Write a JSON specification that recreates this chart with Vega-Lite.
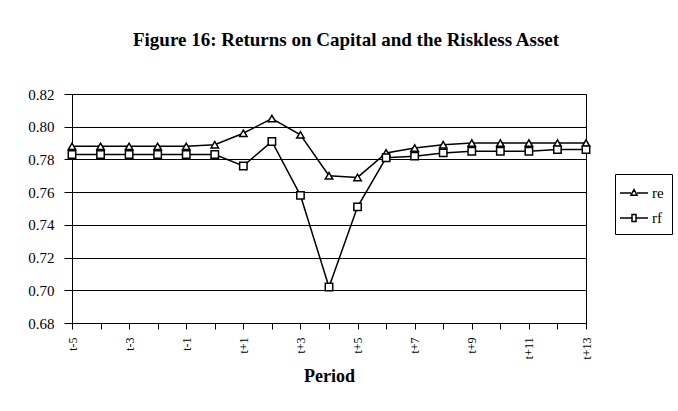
{
  "$schema": "https://vega.github.io/schema/vega-lite/v6.json",
  "autosize": "none",
  "width": 514,
  "height": 229,
  "padding": {"left": 72, "top": 94, "right": 92, "bottom": 88},
  "background": "white",
  "config": {
    "font": "Liberation Serif",
    "view": {"stroke": "black", "strokeWidth": 1},
    "axis": {"labelFont": "Liberation Serif", "titleFont": "Liberation Serif", "labelColor": "black", "titleColor": "black", "domainColor": "black", "tickColor": "black", "gridColor": "black", "gridOpacity": 1}
  },
  "title": {
    "text": "Figure 16: Returns on Capital and the Riskless Asset",
    "font": "Liberation Serif",
    "fontSize": 19,
    "fontWeight": "bold",
    "color": "black",
    "anchor": "middle",
    "offset": 37,
    "dx": 17
  },
  "data": {
    "values": [
      {"period": "t-5", "series": "re", "value": 0.788},
      {"period": "t-4", "series": "re", "value": 0.788},
      {"period": "t-3", "series": "re", "value": 0.788},
      {"period": "t-2", "series": "re", "value": 0.788},
      {"period": "t-1", "series": "re", "value": 0.788},
      {"period": "t", "series": "re", "value": 0.789},
      {"period": "t+1", "series": "re", "value": 0.796},
      {"period": "t+2", "series": "re", "value": 0.805},
      {"period": "t+3", "series": "re", "value": 0.795},
      {"period": "t+4", "series": "re", "value": 0.770},
      {"period": "t+5", "series": "re", "value": 0.769},
      {"period": "t+6", "series": "re", "value": 0.784},
      {"period": "t+7", "series": "re", "value": 0.787},
      {"period": "t+8", "series": "re", "value": 0.789},
      {"period": "t+9", "series": "re", "value": 0.790},
      {"period": "t+10", "series": "re", "value": 0.790},
      {"period": "t+11", "series": "re", "value": 0.790},
      {"period": "t+12", "series": "re", "value": 0.790},
      {"period": "t+13", "series": "re", "value": 0.790},
      {"period": "t-5", "series": "rf", "value": 0.783},
      {"period": "t-4", "series": "rf", "value": 0.783},
      {"period": "t-3", "series": "rf", "value": 0.783},
      {"period": "t-2", "series": "rf", "value": 0.783},
      {"period": "t-1", "series": "rf", "value": 0.783},
      {"period": "t", "series": "rf", "value": 0.783},
      {"period": "t+1", "series": "rf", "value": 0.776},
      {"period": "t+2", "series": "rf", "value": 0.791},
      {"period": "t+3", "series": "rf", "value": 0.758},
      {"period": "t+4", "series": "rf", "value": 0.702},
      {"period": "t+5", "series": "rf", "value": 0.751},
      {"period": "t+6", "series": "rf", "value": 0.781},
      {"period": "t+7", "series": "rf", "value": 0.782},
      {"period": "t+8", "series": "rf", "value": 0.784},
      {"period": "t+9", "series": "rf", "value": 0.785},
      {"period": "t+10", "series": "rf", "value": 0.785},
      {"period": "t+11", "series": "rf", "value": 0.785},
      {"period": "t+12", "series": "rf", "value": 0.786},
      {"period": "t+13", "series": "rf", "value": 0.786}
    ]
  },
  "encoding": {
    "x": {
      "field": "period",
      "type": "ordinal",
      "sort": null,
      "scale": {"type": "point", "padding": 0},
      "axis": {
        "title": "Period",
        "titleFontSize": 18,
        "titleFontWeight": "bold",
        "titlePadding": 8,
        "labelAngle": 270,
        "labelFontSize": 12,
        "labelPadding": 8,
        "tickSize": 6,
        "labelExpr": "indexof(['t-5','t-3','t-1','t+1','t+3','t+5','t+7','t+9','t+11','t+13'], datum.value) >= 0 ? datum.value : ''",
        "grid": false
      }
    },
    "y": {
      "field": "value",
      "type": "quantitative",
      "scale": {"domain": [0.68, 0.82], "nice": false, "zero": false},
      "axis": {
        "title": null,
        "values": [0.68, 0.70, 0.72, 0.74, 0.76, 0.78, 0.80, 0.82],
        "format": ".2f",
        "labelFontSize": 15,
        "tickSize": 8,
        "labelPadding": 10,
        "grid": true
      }
    }
  },
  "layer": [
    {
      "mark": {"type": "line", "strokeWidth": 1.5},
      "encoding": {
        "color": {
          "field": "series",
          "type": "nominal",
          "scale": {"domain": ["re", "rf"], "range": ["black", "black"]},
          "legend": {
            "title": null,
            "orient": "none",
            "legendX": 543,
            "legendY": 80,
            "strokeColor": "black",
            "padding": 8,
            "labelFontSize": 15,
            "labelFont": "Liberation Serif",
            "labelColor": "black",
            "symbolSize": 400,
            "rowPadding": 6,
            "labelOffset": 7,
            "encode": {
              "symbols": {
                "update": {
                  "shape": {"signal": "datum.value === 're' ? 'M-1.4,0H-0.3M0.3,0H1.4M-0.3,0.22L0,-0.35L0.3,0.22Z' : 'M-1.4,0H-0.2M0.2,0H1.4M-0.2,-0.35H0.2V0.35H-0.2Z'"},
                  "stroke": {"value": "black"},
                  "fill": {"value": "white"},
                  "strokeWidth": {"value": 1.5}
                }
              }
            }
          }
        }
      }
    },
    {
      "transform": [{"filter": "datum.series === 're'"}],
      "mark": {"type": "point", "shape": "triangle-up", "filled": true, "fill": "white", "stroke": "black", "strokeWidth": 1.5, "size": 55, "opacity": 1}
    },
    {
      "transform": [{"filter": "datum.series === 'rf'"}],
      "mark": {"type": "point", "shape": "square", "filled": true, "fill": "white", "stroke": "black", "strokeWidth": 1.5, "size": 55, "opacity": 1}
    }
  ]
}
